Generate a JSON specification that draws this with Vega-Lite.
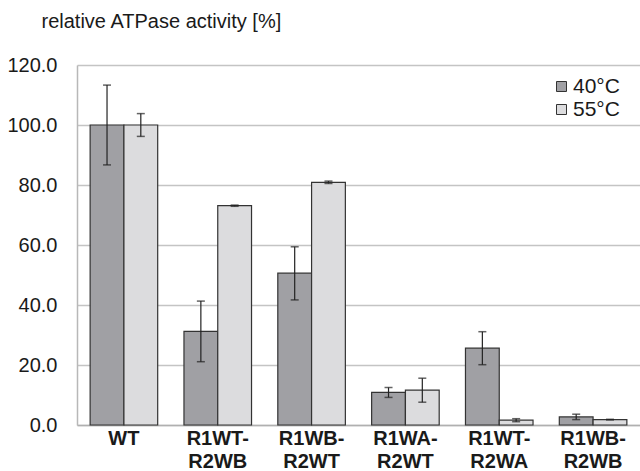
{
  "$schema": "https://vega.github.io/schema/vega-lite/v6.json",
  "width": 563,
  "height": 360,
  "autosize": {"type": "none"},
  "padding": {"left": 77, "top": 65, "right": 0, "bottom": 46},
  "background": "white",
  "config": {
    "font": "Liberation Sans",
    "view": {"stroke": null},
    "axis": {"labelColor": "#1a1a1a", "titleColor": "#1a1a1a"}
  },
  "data": {
    "values": [
      {"construct": "WT", "temp": "40°C", "value": 100.0, "lo": 86.7, "hi": 113.3},
      {"construct": "WT", "temp": "55°C", "value": 100.0, "lo": 96.2, "hi": 103.8},
      {"construct": "R1WT-R2WB", "temp": "40°C", "value": 31.2, "lo": 21.1, "hi": 41.3},
      {"construct": "R1WT-R2WB", "temp": "55°C", "value": 73.1, "lo": 72.9, "hi": 73.3},
      {"construct": "R1WB-R2WT", "temp": "40°C", "value": 50.6, "lo": 41.7, "hi": 59.4},
      {"construct": "R1WB-R2WT", "temp": "55°C", "value": 80.9, "lo": 80.5, "hi": 81.3},
      {"construct": "R1WA-R2WT", "temp": "40°C", "value": 10.9, "lo": 9.2, "hi": 12.5},
      {"construct": "R1WA-R2WT", "temp": "55°C", "value": 11.6, "lo": 7.6, "hi": 15.6},
      {"construct": "R1WT-R2WA", "temp": "40°C", "value": 25.6, "lo": 20.1, "hi": 31.1},
      {"construct": "R1WT-R2WA", "temp": "55°C", "value": 1.6, "lo": 1.1, "hi": 2.1},
      {"construct": "R1WB-R2WB", "temp": "40°C", "value": 2.7, "lo": 1.8, "hi": 3.6},
      {"construct": "R1WB-R2WB", "temp": "55°C", "value": 1.8, "lo": 1.7, "hi": 1.9}
    ]
  },
  "encoding": {
    "x": {
      "field": "construct",
      "type": "nominal",
      "sort": null,
      "scale": {"paddingInner": 0.28, "paddingOuter": 0.14},
      "axis": {
        "title": null,
        "labelAngle": 0,
        "labelFontSize": 20,
        "labelFontWeight": "bold",
        "labelPadding": 3,
        "labelLineHeight": 23,
        "labelBaseline": "top",
        "ticks": false,
        "domainColor": "#b0b0b0",
        "domainWidth": 1.5,
        "labelExpr": "indexof(datum.value,'-') > 0 ? [slice(datum.value,0,indexof(datum.value,'-')+1), slice(datum.value,indexof(datum.value,'-')+1)] : datum.value"
      }
    },
    "xOffset": {"field": "temp", "type": "nominal", "scale": {"paddingInner": 0, "paddingOuter": 0}}
  },
  "layer": [
    {
      "mark": {"type": "bar", "stroke": "#333333", "strokeWidth": 1.2},
      "encoding": {
        "y": {
          "field": "value",
          "type": "quantitative",
          "scale": {"domain": [0, 120], "nice": false},
          "axis": {
            "values": [0, 20, 40, 60, 80, 100, 120],
            "format": ".1f",
            "labelFontSize": 20,
            "labelPadding": 20,
            "ticks": false,
            "domain": true,
            "domainColor": "#b8b8b8",
            "domainWidth": 1.5,
            "gridColor": "#c4c4c4",
            "gridWidth": 1.5,
            "title": "relative ATPase activity [%]",
            "titleAngle": 0,
            "titleFontSize": 20,
            "titleFontWeight": "normal",
            "titleAlign": "left",
            "titleBaseline": "alphabetic",
            "titleX": -36,
            "titleY": -38
          }
        },
        "color": {
          "field": "temp",
          "type": "nominal",
          "scale": {"domain": ["40°C", "55°C"], "range": ["#a0a0a4", "#dcdcde"]},
          "legend": {
            "title": null,
            "orient": "none",
            "legendX": 474,
            "legendY": 11,
            "symbolType": "square",
            "symbolSize": 100,
            "symbolStrokeColor": "#333333",
            "symbolStrokeWidth": 1,
            "labelFontSize": 21,
            "labelColor": "#1a1a1a",
            "labelOffset": 1,
            "rowPadding": 1
          }
        }
      }
    },
    {
      "mark": {"type": "rule", "color": "#222222", "strokeWidth": 1.2},
      "encoding": {"y": {"field": "lo", "type": "quantitative"}, "y2": {"field": "hi"}}
    },
    {
      "mark": {"type": "tick", "color": "#222222", "thickness": 1.5, "size": 8},
      "encoding": {"y": {"field": "lo", "type": "quantitative"}}
    },
    {
      "mark": {"type": "tick", "color": "#222222", "thickness": 1.5, "size": 8},
      "encoding": {"y": {"field": "hi", "type": "quantitative"}}
    }
  ]
}
